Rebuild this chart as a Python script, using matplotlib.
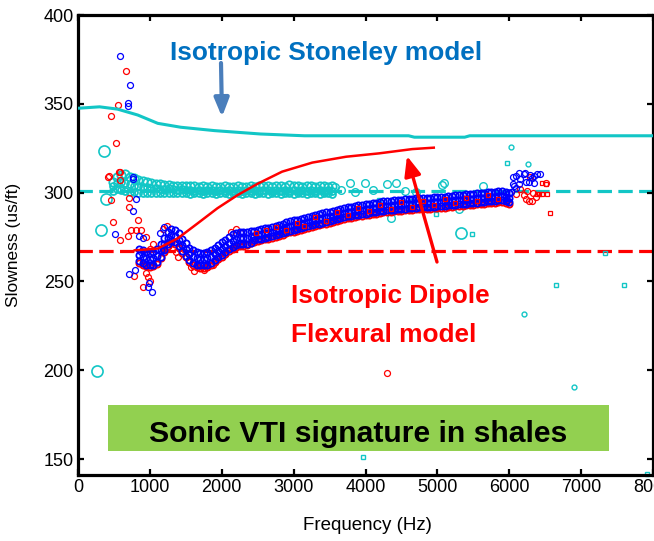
import numpy as np
import matplotlib
matplotlib.use("Agg")
import matplotlib.pyplot as plt
from matplotlib import font_manager
from matplotlib.patches import Rectangle, FancyArrowPatch

# ---------------------------------------------------------------- data
# Model curves
stoneley_f = [0, 300, 550, 830, 1110, 1430, 1900, 2540, 3150, 4600, 4680, 5380, 5450, 8000]
stoneley_s = [347.5, 348.3, 347.0, 343.7, 339.0, 336.8, 334.9, 333.0, 332.0, 332.0, 331.2, 331.2, 332.0, 332.0]

flexural_f = [790, 1110, 1390, 1665, 1940, 2220, 2500, 2840, 3260, 3730, 4190, 4650, 4950]
flexural_s = [267.5, 268.5, 274.3, 282.7, 291.2, 298.6, 305.0, 311.8, 316.9, 320.2, 322.1, 324.5, 325.3]

stoneley_ref = 301.0   # low-frequency Stoneley asymptote
flexural_ref = 267.3   # low-frequency flexural asymptote (shear)

# Dipole dispersion band, 50 Hz bins from 850 to 6000 Hz
band_f = np.arange(850, 6001, 50)
band_mid = [265.0, 264.0, 263.0, 262.5, 263.0, 264.5, 267.5, 271.0, 274.5, 276.0,
            275.5, 273.5, 270.5, 268.0, 265.5, 264.0, 263.0, 262.5, 262.5, 263.0,
            264.0, 265.5, 267.0, 268.5, 270.0, 271.5, 273.0, 274.0, 274.5, 274.5,
            274.5, 275.0, 275.5, 276.0, 276.5, 277.0, 277.5, 278.0, 278.5, 279.0,
            279.5, 280.5, 281.0, 281.5, 282.0, 282.5, 283.0, 283.5, 284.0, 284.5,
            285.0, 285.5, 286.0, 286.5, 287.0, 287.5, 288.0, 288.5, 289.0, 289.3,
            289.6, 290.0, 290.3, 290.6, 291.0, 291.3, 291.6, 292.0, 292.2, 292.4,
            292.6, 292.8, 293.0, 293.2, 293.4, 293.6, 293.8, 294.0, 294.1, 294.2,
            294.3, 294.4, 294.5, 294.6, 294.8, 295.0, 295.2, 295.4, 295.6, 295.8,
            296.0, 296.2, 296.4, 296.6, 296.8, 297.0, 297.2, 297.4, 297.6, 297.8,
            298.0, 298.0, 297.5, 297.0]
band_hi = [268.5, 267.5, 266.5, 266.0, 266.5, 268.0, 271.0, 274.5, 278.0, 279.5,
           279.0, 277.0, 274.0, 271.5, 269.0, 267.5, 266.5, 266.0, 266.0, 266.5,
           267.5, 269.0, 270.5, 272.0, 273.5, 275.0, 276.5, 277.5, 278.0, 278.0,
           278.0, 278.5, 278.3, 278.8, 279.3, 279.8, 280.3, 280.8, 281.3, 281.8,
           282.3, 283.3, 283.8, 284.3, 284.8, 285.3, 285.8, 286.3, 286.8, 287.3,
           287.8, 288.3, 288.8, 289.3, 289.8, 290.3, 290.8, 291.3, 291.8, 292.1,
           292.4, 292.8, 293.1, 293.4, 293.8, 294.1, 294.4, 294.8, 295.0, 295.2,
           295.4, 295.6, 295.8, 296.0, 296.2, 296.4, 296.6, 296.8, 296.9, 297.0,
           297.1, 297.2, 297.3, 297.4, 297.6, 297.8, 298.0, 298.2, 298.4, 298.6,
           298.8, 299.0, 299.2, 299.4, 299.6, 299.8, 300.0, 300.2, 300.4, 300.6,
           300.8, 300.8, 300.3, 299.8]
band_lo = [261.5, 260.5, 259.5, 259.0, 259.5, 261.0, 264.0, 267.5, 271.0, 272.5,
           272.0, 270.0, 267.0, 264.5, 262.0, 260.5, 259.5, 259.0, 259.0, 259.5,
           260.5, 262.0, 263.5, 265.0, 266.5, 268.0, 269.5, 270.5, 271.0, 271.0,
           271.0, 271.5, 273.1, 273.6, 274.1, 274.6, 275.1, 275.6, 276.1, 276.6,
           277.1, 278.1, 278.6, 279.1, 279.6, 280.1, 280.6, 281.1, 281.6, 282.1,
           282.6, 283.1, 283.6, 284.1, 284.6, 285.1, 285.6, 286.1, 286.6, 286.9,
           287.2, 287.6, 287.9, 288.2, 288.6, 288.9, 289.2, 289.6, 289.8, 290.0,
           290.2, 290.4, 290.6, 290.8, 291.0, 291.2, 291.4, 291.6, 291.7, 291.8,
           291.9, 292.0, 292.1, 292.2, 292.4, 292.6, 292.8, 293.0, 293.2, 293.4,
           293.6, 293.8, 294.0, 294.2, 294.4, 294.6, 294.8, 295.0, 295.2, 295.4,
           295.6, 295.6, 295.1, 294.6]
band_red = [260.5, 259.5, 258.5, 258.0, 258.5, 260.0, 263.0, 266.5, 270.0, 271.5,
            271.0, 269.0, 266.0, 263.5, 261.0, 259.5, 258.0, 257.5, 257.5, 258.0,
            259.5, 261.0, 262.5, 264.0, 265.5, 267.0, 268.5, 269.5, 270.0, 270.0,
            270.5, 271.5, 272.1, 272.6, 273.1, 273.6, 274.1, 274.6, 275.1, 275.6,
            276.1, 277.1, 277.6, 278.1, 278.6, 279.1, 279.6, 280.1, 280.6, 281.1,
            281.6, 282.1, 282.6, 283.1, 283.6, 284.1, 284.6, 285.1, 285.6, 285.9,
            286.2, 286.6, 286.9, 287.2, 287.6, 287.9, 288.2, 288.6, 288.8, 289.0,
            289.2, 289.4, 289.6, 289.8, 290.0, 290.2, 290.4, 290.6, 290.7, 290.8,
            290.9, 291.0, 291.1, 291.2, 291.4, 291.6, 291.8, 292.0, 292.2, 292.4,
            292.6, 292.8, 293.0, 293.2, 293.4, 293.6, 293.8, 294.0, 294.2, 294.4,
            294.6, 294.6, 294.1, 293.6]
for arr in (band_mid, band_hi, band_lo, band_red):
    assert len(arr) == len(band_f)

# Scattered dipole picks (XX in red, YY in blue)
red_f = [555, 665, 455, 535, 415, 570, 425, 580, 460, 715, 705, 830, 485, 590, 695,
         740, 800, 870, 945, 785, 945, 975, 1000, 900, 590, 4300, 1370, 1390, 1575,
         1620, 1690, 1750, 1800, 1875, 2130, 2200, 2270, 1180, 1240, 1050, 1000,
         6230, 6270, 6370, 6330, 6510, 6250, 6200, 6320, 6290, 6150, 6100]
red_s = [349.3, 368.6, 343.3, 327.8, 309.0, 311.4, 309.3, 311.8, 296.0, 296.8, 291.7,
         284.6, 283.6, 273.3, 275.6, 279.0, 279.0, 279.0, 274.8, 253.0, 254.5, 252.5,
         250.5, 247.0, 307.0, 198.2, 266.7, 264.0, 258.3, 256.0, 257.4, 256.5, 258.0,
         259.0, 278.0, 279.5, 277.0, 279.5, 281.0, 271.0, 268.0,
         296.2, 295.0, 297.7, 299.6, 305.2, 301.1, 298.7, 295.0, 309.0, 302.0, 299.0]
blue_f = [580, 730, 690, 700, 765, 805, 765, 520, 855, 900, 715, 795, 975, 1030, 990,
          765, 880, 1190, 1140,
          6090, 6220, 6430, 6150, 6270, 6350, 6070, 6090, 6020, 5970, 6050, 6135,
          6200, 6290, 6340, 6390, 6320, 6230, 6135, 6050]
blue_s = [377.0, 360.6, 350.3, 349.0, 307.7, 296.2, 289.8, 276.7, 275.6, 274.3, 254.3,
          256.2, 246.8, 244.0, 249.0, 308.8, 266.7, 280.5, 277.0,
          309.3, 310.8, 310.3, 307.5, 306.2, 305.2, 303.7, 302.6, 300.5, 296.0, 308.6,
          310.9, 310.3, 309.9, 309.3, 310.3, 308.0, 306.2, 304.7, 304.7]
redsq_f = [2480, 2620, 2760, 2900, 3050, 3150, 3300, 3450, 3600, 3750, 3900, 4050,
           4200, 4350, 4500, 4650, 4800, 4950, 5100, 5250, 5400, 5550, 5700, 5850,
           6460, 6520, 6560, 6390, 6450, 6510, 6420]
redsq_s = [277.0, 279.0, 280.5, 279.0, 283.0, 281.0, 286.0, 284.0, 289.0, 287.5, 291.5,
           289.5, 293.0, 291.0, 294.5, 292.0, 295.5, 293.0, 296.5, 294.0, 297.0, 295.0,
           298.5, 296.5, 299.0, 299.0, 288.7, 299.0, 305.5, 305.0, 299.3]

# Stoneley picks, 60 Hz bins from 480 to 3540 Hz
st_f = np.arange(480, 3541, 60)
st_hi = [306.0, 309.0, 310.0, 310.5, 309.0, 308.0, 307.0, 306.5, 306.0, 305.5,
         305.0, 305.0, 304.5, 304.5, 304.0, 304.0, 304.0, 303.5, 303.5, 303.5,
         303.0, 303.5, 303.0, 303.5, 303.0, 303.0, 303.5, 303.0, 303.0, 303.5,
         303.0, 303.0, 303.5, 303.0, 303.5, 304.0, 303.5, 303.0, 304.0, 303.5,
         303.0, 304.5, 304.0, 303.5, 303.0, 304.0, 303.5, 303.0, 304.0, 303.5,
         303.0, 304.0]
st_mid = [303.5, 305.5, 306.0, 305.5, 305.0, 304.0, 303.5, 303.0, 303.0, 302.5,
          302.5, 302.0, 302.0, 302.5, 302.0, 301.5, 302.0, 301.5, 301.5, 301.0,
          301.5, 301.0, 301.5, 301.5, 301.0, 301.5, 301.0, 301.5, 301.0, 301.5,
          301.0, 301.5, 301.0, 301.5, 301.0, 301.5, 301.5, 301.0, 301.5, 301.0,
          301.5, 301.0, 301.5, 301.0, 301.5, 301.0, 301.5, 301.0, 301.5, 301.0,
          301.5, 301.0]
st_lo = [301.0, 302.0, 301.5, 301.0, 300.5, 300.5, 300.0, 300.0, 300.0, 299.5,
         300.0, 299.5, 299.5, 300.0, 299.5, 299.5, 300.0, 299.5, 299.0, 299.5,
         299.5, 299.0, 299.5, 299.5, 299.0, 299.5, 299.5, 299.0, 299.5, 299.5,
         299.0, 299.5, 299.5, 299.0, 299.5, 299.5, 299.0, 299.5, 299.5, 299.0,
         299.5, 299.5, 299.0, 299.5, 299.5, 299.0, 299.5, 299.5, 299.0, 299.5,
         299.5, 299.0]
for arr in (st_hi, st_mid, st_lo):
    assert len(arr) == len(st_f)

st_big_f = [360, 315, 390, 265, 5330]
st_big_s = [323.6, 279.0, 296.4, 199.5, 277.4]
st_pt_f = [3570, 3660, 3780, 3860, 3990, 4100, 4300, 4350, 4430, 4550, 4700, 5060,
           5090, 5300, 5630]
st_pt_s = [303.3, 301.5, 305.6, 300.5, 305.6, 301.5, 305.0, 285.5, 305.6, 301.0,
           300.5, 304.5, 305.2, 290.6, 304.0]
st_small_f = [6020, 6260, 6210, 6900]
st_small_s = [325.5, 316.0, 231.6, 190.3]
st_sq_f = [4190, 4650, 4790, 4600, 4980, 5480, 5970, 6650, 7590, 7330, 3970, 7910,
           1200, 1500, 1900, 2300, 2700, 3100, 3400]
st_sq_s = [296.0, 295.0, 294.0, 290.7, 288.0, 276.5, 316.5, 248.0, 248.0, 265.8,
           151.4, 141.5, 301.0, 302.0, 300.5, 301.0, 301.5, 300.5, 301.0]

x_ticks = [0, 1000, 2000, 3000, 4000, 5000, 6000, 7000, 8000]
y_ticks = [150, 200, 250, 300, 350, 400]

# ---------------------------------------------------------------- style
CYAN = "#12C6C6"
RED = "#FF0000"
BLUE = "#0000FF"
W, H = 654, 541

names = {f.name for f in font_manager.fontManager.ttflist}
if "Liberation Sans Narrow" in names:
    CALLOUT = dict(family="Liberation Sans Narrow", weight="bold")
    k = 1.0
else:
    CALLOUT = dict(family="Liberation Sans", weight="bold")
    k = 0.82
plt.rcParams["font.family"] = ["Liberation Sans", "DejaVu Sans"]


def fx(x):
    return x / W


def fy(y):
    return 1 - y / H


fig = plt.figure(figsize=(W / 100, H / 100), dpi=100)
ax = fig.add_axes([fx(78), fy(475), (653 - 78) / W, (475 - 15) / H])

# reference asymptotes
ax.axhline(stoneley_ref, color=CYAN, lw=2.3, dashes=(4.5, 2.0), zorder=1)
ax.axhline(flexural_ref, color=RED, lw=2.3, dashes=(4.5, 2.0), zorder=1)

# Stoneley picks
circ = dict(ls="none", marker="o", mfc="none")
ax.plot(st_f, st_hi, color=CYAN, ms=6, mew=1.3, zorder=2, **circ)
ax.plot(st_f, st_mid, color=CYAN, ms=5, mew=1.3, zorder=2, **circ)
ax.plot(st_f, st_lo, color=CYAN, ms=5, mew=1.3, zorder=2, **circ)
ax.plot(st_pt_f, st_pt_s, color=CYAN, ms=5.5, mew=1.0, zorder=2, **circ)
ax.plot(st_big_f, st_big_s, color=CYAN, ms=8, mew=1.2, zorder=2, **circ)
ax.plot(st_small_f, st_small_s, color=CYAN, ms=3.5, mew=1.0, zorder=2, **circ)
ax.plot(st_sq_f, st_sq_s, color=CYAN, ls="none", marker="s", mfc="none",
        ms=2.6, mew=1.0, zorder=2, clip_on=False)

# dipole picks
ax.plot(band_f, band_red, color=RED, ms=4.5, mew=1.3, zorder=3, **circ)
ax.plot(red_f, red_s, color=RED, ms=4.3, mew=0.9, zorder=3, **circ)
ax.plot(band_f, band_lo, color=BLUE, ms=4.5, mew=1.3, zorder=4, **circ)
ax.plot(band_f, band_mid, color=BLUE, ms=4.5, mew=1.3, zorder=4, **circ)
ax.plot(band_f, band_hi, color=BLUE, ms=4.5, mew=1.3, zorder=4, **circ)
ax.plot(blue_f, blue_s, color=BLUE, ms=4.3, mew=0.9, zorder=4, **circ)
ax.plot(redsq_f, redsq_s, color=RED, ls="none", marker="s", mfc="none",
        ms=2.2, mew=0.9, zorder=5)

# model curves
ax.plot(stoneley_f, stoneley_s, color=CYAN, lw=2.2, zorder=6)
ax.plot(flexural_f, flexural_s, color=RED, lw=1.8, zorder=6)

ax.set_xlim(0, 8000)
ax.set_ylim(141, 400)
ax.set_xticks(x_ticks)
ax.set_xticklabels([str(v) for v in x_ticks])
ax.set_yticks(y_ticks)
ax.set_yticklabels([str(v) for v in y_ticks])
ax.tick_params(direction="in", top=True, right=True, length=4, width=1.6,
               labelsize=13, pad=3)
for sp in ax.spines.values():
    sp.set_linewidth(2.3)

fig.text(fx(367), fy(530), "Frequency (Hz)", ha="center", va="baseline", fontsize=13.5)
fig.text(fx(14), fy(245), "Slowness (us/ft)", ha="center", va="center",
         rotation=90, fontsize=12.5)

# call-outs
fig.text(fx(170), fy(60), "Isotropic Stoneley model", color="#0070C0",
         fontsize=23 * k, ha="left", va="baseline", **CALLOUT)
fig.text(fx(291), fy(303), "Isotropic Dipole", color=RED,
         fontsize=23 * k, ha="left", va="baseline", **CALLOUT)
fig.text(fx(291), fy(342), "Flexural model", color=RED,
         fontsize=23 * k, ha="left", va="baseline", **CALLOUT)

fig.add_artist(Rectangle((fx(108), fy(451)), (609 - 108) / W, (451 - 405) / H,
                         transform=fig.transFigure, facecolor="#92D050",
                         edgecolor="none", zorder=10))
fig.text(fx(358), fy(442), "Sonic VTI signature in shales", color="black",
         fontsize=26.5 * k, ha="center", va="baseline", zorder=11, **CALLOUT)

fig.add_artist(FancyArrowPatch(
    (221, H - 63), (222, H - 117), transform=None,
    arrowstyle="-|>,head_length=0.55,head_width=0.22", mutation_scale=20,
    color="#4A7EBB", lw=3.0, shrinkA=0, shrinkB=0, zorder=12))
fig.add_artist(FancyArrowPatch(
    (437, H - 262), (407, H - 156), transform=None,
    arrowstyle="-|>,head_length=0.6,head_width=0.25", mutation_scale=20,
    color=RED, lw=2.4, shrinkA=0, shrinkB=0, zorder=12))

fig.savefig("out.png", dpi=100)
